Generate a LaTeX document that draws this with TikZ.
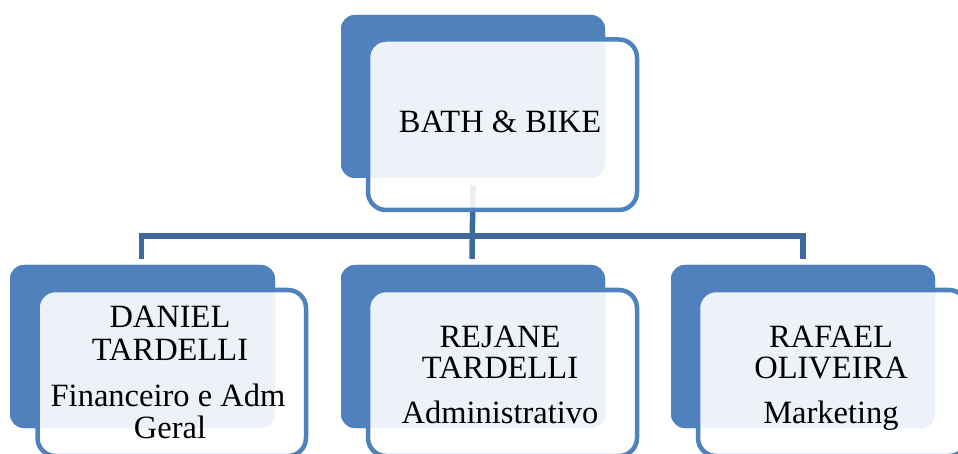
\documentclass[tikz,border=0pt]{standalone}
\usepackage{fontspec}
\setmainfont{Liberation Serif}
\usetikzlibrary{calc}
\definecolor{boxblue}{HTML}{4F81BD}
\definecolor{connblue}{HTML}{3E6A9B}
\begin{document}
\begin{tikzpicture}[x=1pt,y=-1pt,
  bluebox/.style={rectangle, fill=boxblue, rounded corners=14pt, inner sep=0pt, minimum width=264pt, minimum height=163pt},
  framebox/.style={rectangle, draw=boxblue, line width=4.5pt, fill=white, fill opacity=0.9, draw opacity=1, rounded corners=18pt, inner sep=0pt, minimum width=269pt},
  conn/.style={draw=connblue, line width=5.5pt, line join=miter, line cap=butt},
  txt/.style={anchor=base, inner sep=0pt, font=\fontsize{32.5}{33}\selectfont, text=black, text opacity=1}]
\useasboundingbox (0,0) rectangle (958,454);
\path[clip] (0,0) rectangle (958,454);
% box shapes (placed first, without drawing, to get anchors)
\path node[bluebox] (topB) at (473,96.5) {};
\path node[bluebox, minimum width=265pt] (leftB) at (142.5,346.5) {};
\path node[bluebox] (midB) at (473,346.5) {};
\path node[bluebox] (rightB) at (803,346.5) {};
% connectors
\coordinate (bus) at (0,236);
\coordinate (ts) at ($(topB.south)+(0,7)$);
\coordinate (le) at ($(leftB.north)+(-1,-6)$);
\coordinate (me) at ($(midB.north)+(-1,-6)$);
\coordinate (re) at ($(rightB.north)+(0,-6)$);
\draw[conn] (le) -- (le |- bus) -- (re |- bus) -- (re);
\draw[conn] (ts) -- (me);
% top unit
\node[bluebox] (topB2) at (topB) {};
\node[framebox, minimum height=170.5pt] (topF) at (502.5,124.75) {};
% bottom units
\node[bluebox, minimum width=265pt] (leftB2) at (leftB) {};
\node[framebox, minimum width=268.5pt, minimum height=166pt] (leftF) at (171.75,373) {};
\node[bluebox] (midB2) at (midB) {};
\node[framebox, minimum height=166pt] (midF) at (502.5,373) {};
\node[bluebox] (rightB2) at (rightB) {};
\node[framebox, minimum height=166pt] (rightF) at (832.5,373) {};
% texts
\node[txt] (t0) at (500,133) {BATH \& BIKE};
\node[txt] (l1) at (170,327) {DANIEL};
\node[txt] (l2) at (170,360) {TARDELLI};
\node[txt] (l3) at (168,406) {Financeiro e Adm};
\node[txt] (l4) at (170,438) {Geral};
\node[txt] (m1) at (500,347) {REJANE};
\node[txt] (m2) at (500,378) {TARDELLI};
\node[txt] (m3) at (500,423) {Administrativo};
\node[txt] (r1) at (831,347) {RAFAEL};
\node[txt] (r2) at (831,378) {OLIVEIRA};
\node[txt] (r3) at (831,423) {Marketing};
\end{tikzpicture}
\end{document}
